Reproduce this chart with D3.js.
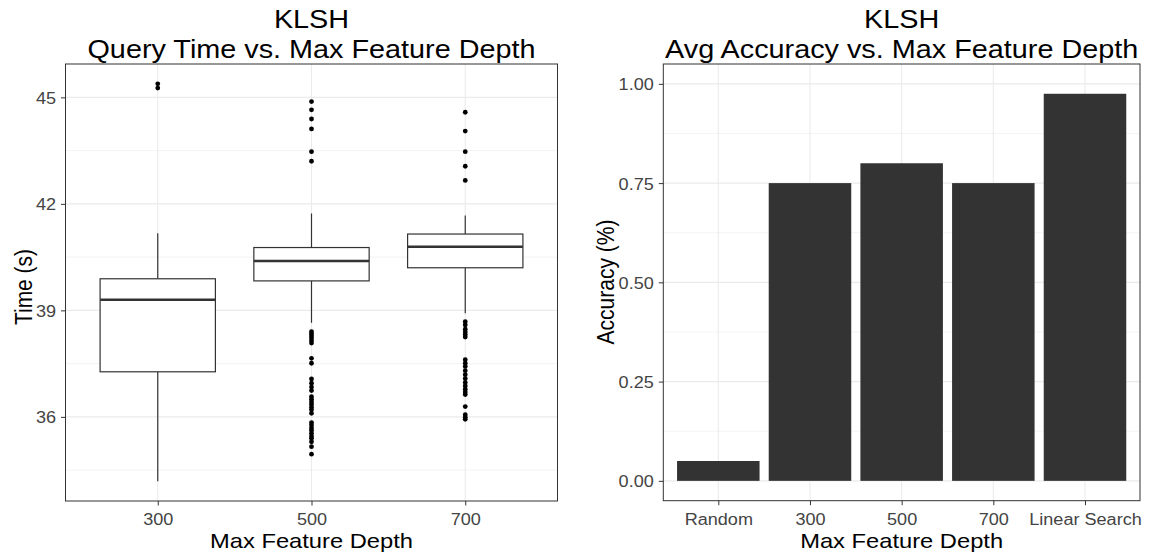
<!DOCTYPE html>
<html><head><meta charset="utf-8">
<script src="https://cdn.jsdelivr.net/npm/d3@7"></script>
<style>
body{margin:0;background:#fff;}
text{font-family:"Liberation Sans",Arial,sans-serif;}
</style></head>
<body><svg id="c" width="1151" height="557"></svg>
<script>
// ---------- data ----------
const depthCats = ["300","500","700"];
// box stats: [lowerWhisker, q1, median, q3, upperWhisker]
const boxStats = [
  [34.19, 37.27, 39.30, 39.89, 41.17],
  [38.65, 39.83, 40.39, 40.77, 41.73],
  [38.92, 40.20, 40.79, 41.15, 41.67]
];
const outliers300 = [45.38, 45.26];
const outliers500 = [44.88, 44.65, 44.39, 44.11, 43.47, 43.20,
  38.40, 38.34, 38.28, 38.22, 38.15, 38.08, 37.65, 37.51, 37.07, 36.95, 36.84, 36.74,
  36.57, 36.50, 36.42, 36.35, 36.27, 36.20, 36.10, 35.84, 35.77, 35.69, 35.62, 35.54,
  35.46, 35.40, 35.30, 35.16, 34.95];
const outliers700 = [44.58, 44.05, 43.47, 43.06, 42.66,
  38.68, 38.59, 38.47, 38.39, 38.32, 38.25, 37.61, 37.51, 37.42, 37.30, 37.19, 37.08,
  36.97, 36.87, 36.78, 36.70, 36.63, 36.29, 36.06, 35.99, 35.93];
const timeTicks = [36, 39, 42, 45];
const timeMinor = [34.5, 37.5, 40.5, 43.5];

const accCats = ["Random","300","500","700","Linear Search"];
const accValues = [0.05, 0.75, 0.80, 0.75, 0.975];
const accTicks = [0, 0.25, 0.5, 0.75, 1.0];
const accMinor = [0.125, 0.375, 0.625, 0.875];

// ---------- style ----------
const SX = 1.13;
const FONT_TITLE = 25.5, FONT_AXIS = 21, FONT_TICK = 16;
const GRID = "#EBEBEB", BORDER = "#333333", TICKTXT = "#444444";

const svg = d3.select("#c");
svg.append("rect").attr("width",1151).attr("height",557).attr("fill","#fff");

function stext(g, x, y, s, size, anchor, rot, color){
  return g.append("text")
    .attr("transform", `translate(${x},${y}) scale(${SX},1)` + (rot ? " rotate(-90)" : ""))
    .attr("text-anchor", anchor).attr("font-size", size).attr("fill", color || "#000").text(s);
}

function panel(P, xCats, yDomain, yTicks, yMinor, yFmt, title, ytitle, ytitleX, ytitleY){
  const x = d3.scalePoint().domain(xCats).range([P.x0, P.x1]).padding(0.6);
  const y = d3.scaleLinear().domain(yDomain).range([P.y1, P.y0]);
  const g = svg.append("g");
  // grid
  g.selectAll(".mn").data(yMinor).join("line")
    .attr("x1",P.x0).attr("x2",P.x1).attr("y1",d=>y(d)).attr("y2",d=>y(d))
    .attr("stroke",GRID).attr("stroke-width",0.6);
  g.selectAll(".mj").data(yTicks).join("line")
    .attr("x1",P.x0).attr("x2",P.x1).attr("y1",d=>y(d)).attr("y2",d=>y(d))
    .attr("stroke",GRID).attr("stroke-width",1.1);
  g.selectAll(".vx").data(xCats).join("line")
    .attr("x1",d=>x(d)).attr("x2",d=>x(d)).attr("y1",P.y0).attr("y2",P.y1)
    .attr("stroke",GRID).attr("stroke-width",1.1);
  // axes
  const ya = g.append("g").attr("transform",`translate(${P.x0},0)`)
    .call(d3.axisLeft(y).tickValues(yTicks).tickFormat(yFmt).tickSize(4.5).tickPadding(3));
  ya.select(".domain").remove();
  ya.selectAll(".tick line").attr("stroke",BORDER).attr("stroke-width",1);
  ya.selectAll(".tick text").attr("x",0).attr("dy",null).attr("y",0)
    .attr("transform",`translate(-9.5,6) scale(${SX},1)`)
    .attr("font-size",FONT_TICK).attr("fill",TICKTXT).attr("font-family",null);
  const xa = g.append("g").attr("transform",`translate(0,${P.y1})`)
    .call(d3.axisBottom(x).tickSize(4.5).tickPadding(3));
  xa.select(".domain").remove();
  xa.selectAll(".tick line").attr("stroke",BORDER).attr("stroke-width",1);
  xa.selectAll(".tick text").attr("y",0).attr("dy",null)
    .attr("transform",`translate(0,24) scale(${SX},1)`)
    .attr("font-size",FONT_TICK).attr("fill",TICKTXT).attr("font-family",null);
  // titles
  const cx = (P.x0+P.x1)/2;
  stext(svg, cx, 28, "KLSH", FONT_TITLE, "middle");
  stext(svg, cx, 58, title, FONT_TITLE, "middle");
  stext(svg, cx, 548, "Max Feature Depth", FONT_AXIS, "middle");
  stext(svg, ytitleX, ytitleY, ytitle, FONT_AXIS, "middle", true);
  return {g, x, y};
}

// ---------- left: boxplot ----------
const L = {x0:65.5, x1:557.5, y0:64, y1:501};
const allVals = boxStats.flat().concat(outliers300, outliers500, outliers700);
const tMin = d3.min(allVals), tMax = d3.max(allVals), tPad = (tMax - tMin) * 0.05;
const lp = panel(L, depthCats, [tMin - tPad, tMax + tPad], timeTicks, timeMinor, d3.format("d"),
  "Query Time vs. Max Feature Depth", "Time (s)", 32, 287);
const stepL = lp.x.step(), bw = stepL * 0.75;
const outs = [outliers300, outliers500, outliers700];
depthCats.forEach((c, i) => {
  const [lw, q1, md, q3, uw] = boxStats[i];
  const cx = lp.x(c);
  lp.g.append("line").attr("x1",cx).attr("x2",cx).attr("y1",lp.y(q3)).attr("y2",lp.y(uw))
    .attr("stroke",BORDER).attr("stroke-width",1.2);
  lp.g.append("line").attr("x1",cx).attr("x2",cx).attr("y1",lp.y(q1)).attr("y2",lp.y(lw))
    .attr("stroke",BORDER).attr("stroke-width",1.2);
  lp.g.append("rect").attr("x",cx-bw/2).attr("width",bw).attr("y",lp.y(q3))
    .attr("height",lp.y(q1)-lp.y(q3)).attr("fill","#fff").attr("stroke",BORDER).attr("stroke-width",1.2);
  lp.g.append("line").attr("x1",cx-bw/2).attr("x2",cx+bw/2).attr("y1",lp.y(md)).attr("y2",lp.y(md))
    .attr("stroke",BORDER).attr("stroke-width",2.4);
  lp.g.selectAll(null).data(outs[i]).join("circle")
    .attr("cx",cx).attr("cy",d=>lp.y(d)).attr("r",2.4).attr("fill","#000");
});
svg.append("rect").attr("x",L.x0).attr("y",L.y0).attr("width",L.x1-L.x0).attr("height",L.y1-L.y0)
  .attr("fill","none").attr("stroke",BORDER).attr("stroke-width",1);

// ---------- right: bars ----------
const R = {x0:663.3, x1:1140, y0:64, y1:500.7};
const rp = panel(R, accCats, [-0.05, 1.05], accTicks, accMinor, d3.format(".2f"),
  "Avg Accuracy vs. Max Feature Depth", "Accuracy (%)", 614, 282);
const barW = rp.x.step() * 0.9;
rp.g.selectAll(".bar").data(accCats).join("rect")
  .attr("x",(d)=>rp.x(d)-barW/2).attr("width",barW)
  .attr("y",(d,i)=>rp.y(accValues[i])).attr("height",(d,i)=>rp.y(0)-rp.y(accValues[i]))
  .attr("fill","#333333");
svg.append("rect").attr("x",R.x0).attr("y",R.y0).attr("width",R.x1-R.x0).attr("height",R.y1-R.y0)
  .attr("fill","none").attr("stroke",BORDER).attr("stroke-width",1);
</script></body></html>
